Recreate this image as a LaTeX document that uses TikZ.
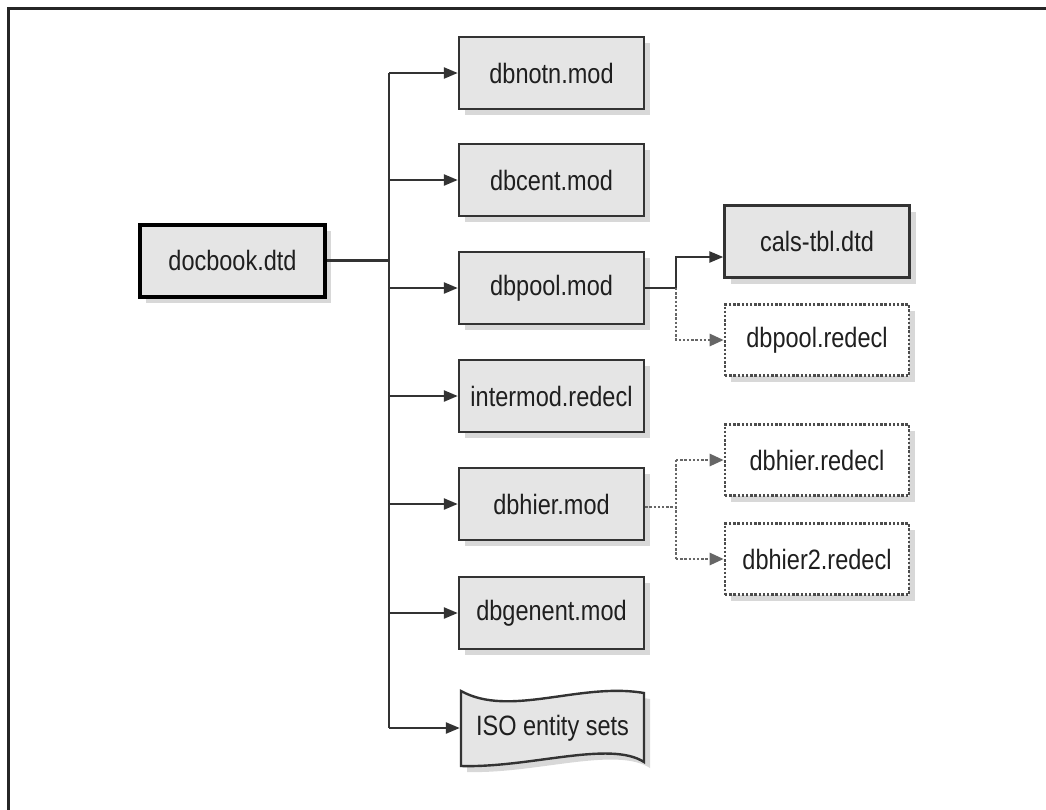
\documentclass[tikz,border=0pt]{standalone}
\usepackage{fontspec}
\setmainfont[FakeStretch=0.84]{Liberation Sans}
\usetikzlibrary{arrows.meta,shadows,calc}
\begin{document}
\begin{tikzpicture}[x=1pt,y=-1pt,
  txt/.style={font=\fontsize{28}{31}\selectfont, text=black!88},
  shad/.style={drop shadow={shadow xshift=6pt, shadow yshift=-6pt, fill=black!30, opacity=0.5}},
  modbox/.style={txt, draw=black!80, line width=2.4pt, fill=black!10, minimum width=185pt, minimum height=72pt, inner sep=0pt, shad},
  mainbox/.style={modbox, line width=4pt, draw=black},
  redbox/.style={txt, draw=black!70, line width=2.6pt, dash pattern=on 2.4pt off 1.8pt, fill=white, minimum width=184pt, minimum height=71pt, inner sep=0pt, shad},
  conn/.style={draw=black!80, line width=2.4pt},
  arr/.style={conn, -{Triangle[length=14pt,width=11pt]}},
  dconn/.style={draw=black!60, line width=2.6pt, dash pattern=on 2.4pt off 1.8pt},
  darr/.style={dconn, -{Triangle[length=14pt,width=12pt,fill=black!60]}}
]
\useasboundingbox (0,0) rectangle (1046,809);
\clip (0,0) rectangle (1046,809);
% frame
\draw[line width=3pt, black!85] (8,830) -- (8,8) -- (1070,8);

% nodes
\node[mainbox] (doc) at (232.5,260.5) {docbook.dtd};
\node[modbox] (notn) at (551.5,73) {dbnotn.mod};
\node[modbox] (cent) at (551.5,180) {dbcent.mod};
\node[modbox] (pool) at (551.5,288) {dbpool.mod};
\node[modbox] (inter) at (551.5,396) {intermod.redecl};
\node[modbox] (hier) at (551.5,504) {dbhier.mod};
\node[modbox] (genent) at (551.5,613) {dbgenent.mod};

\node[modbox] (cals) at (817,241.5) {cals-tbl.dtd};
\node[redbox] (poolr) at (817,340) {dbpool.redecl};
\node[redbox] (hierr) at (817,460) {dbhier.redecl};
\node[redbox] (hier2) at (817,559) {dbhier2.redecl};

% ISO entity sets (wavy document shape)
\fill[black!30, opacity=0.5, shift={(6,6)}] (461,691) .. controls (510,718) and (580,682) .. (644,693) -- (644,762) .. controls (610,740) and (530,768) .. (461,766) -- cycle;
\draw[draw=black!80, line width=2.4pt, fill=black!10] (461,691) .. controls (510,718) and (580,682) .. (644,693) -- (644,762) .. controls (610,740) and (530,768) .. (461,766) -- cycle;
\node[txt, minimum width=183pt, minimum height=60pt, inner sep=0pt] (iso) at (552.5,728) {ISO entity sets};

% trunk
\coordinate (trunk) at (389,0);
\draw[conn] (doc.east) -- (doc.east -| trunk);
\draw[conn] (trunk |- notn.west) -- (trunk |- iso.west);
\draw[arr] (trunk |- notn.west) -- (notn.west);
\draw[arr] (trunk |- cent.west) -- (cent.west);
\draw[arr] (trunk |- pool.west) -- (pool.west);
\draw[arr] (trunk |- inter.west) -- (inter.west);
\draw[arr] (trunk |- hier.west) -- (hier.west);
\draw[arr] (trunk |- genent.west) -- (genent.west);
\draw[arr] (trunk |- iso.west) -- ($(iso.west)+(-1,0)$);

% dbpool branches
\coordinate (pj) at (676,288);
\draw[conn] (pool.east) -- (pj);
\draw[arr] (pj) |- ($(cals.west)+(0,15.5)$);
\draw[darr] (pj) |- (poolr.west);

% dbhier branches
\coordinate (hj) at (676,507);
\draw[dconn] ($(hier.east)+(0,3)$) -- (hj);
\draw[dconn] (hj |- hierr.west) -- (hj |- hier2.west);
\draw[darr] (hj |- hierr.west) -- (hierr.west);
\draw[darr] (hj |- hier2.west) -- (hier2.west);
\end{tikzpicture}
\end{document}
